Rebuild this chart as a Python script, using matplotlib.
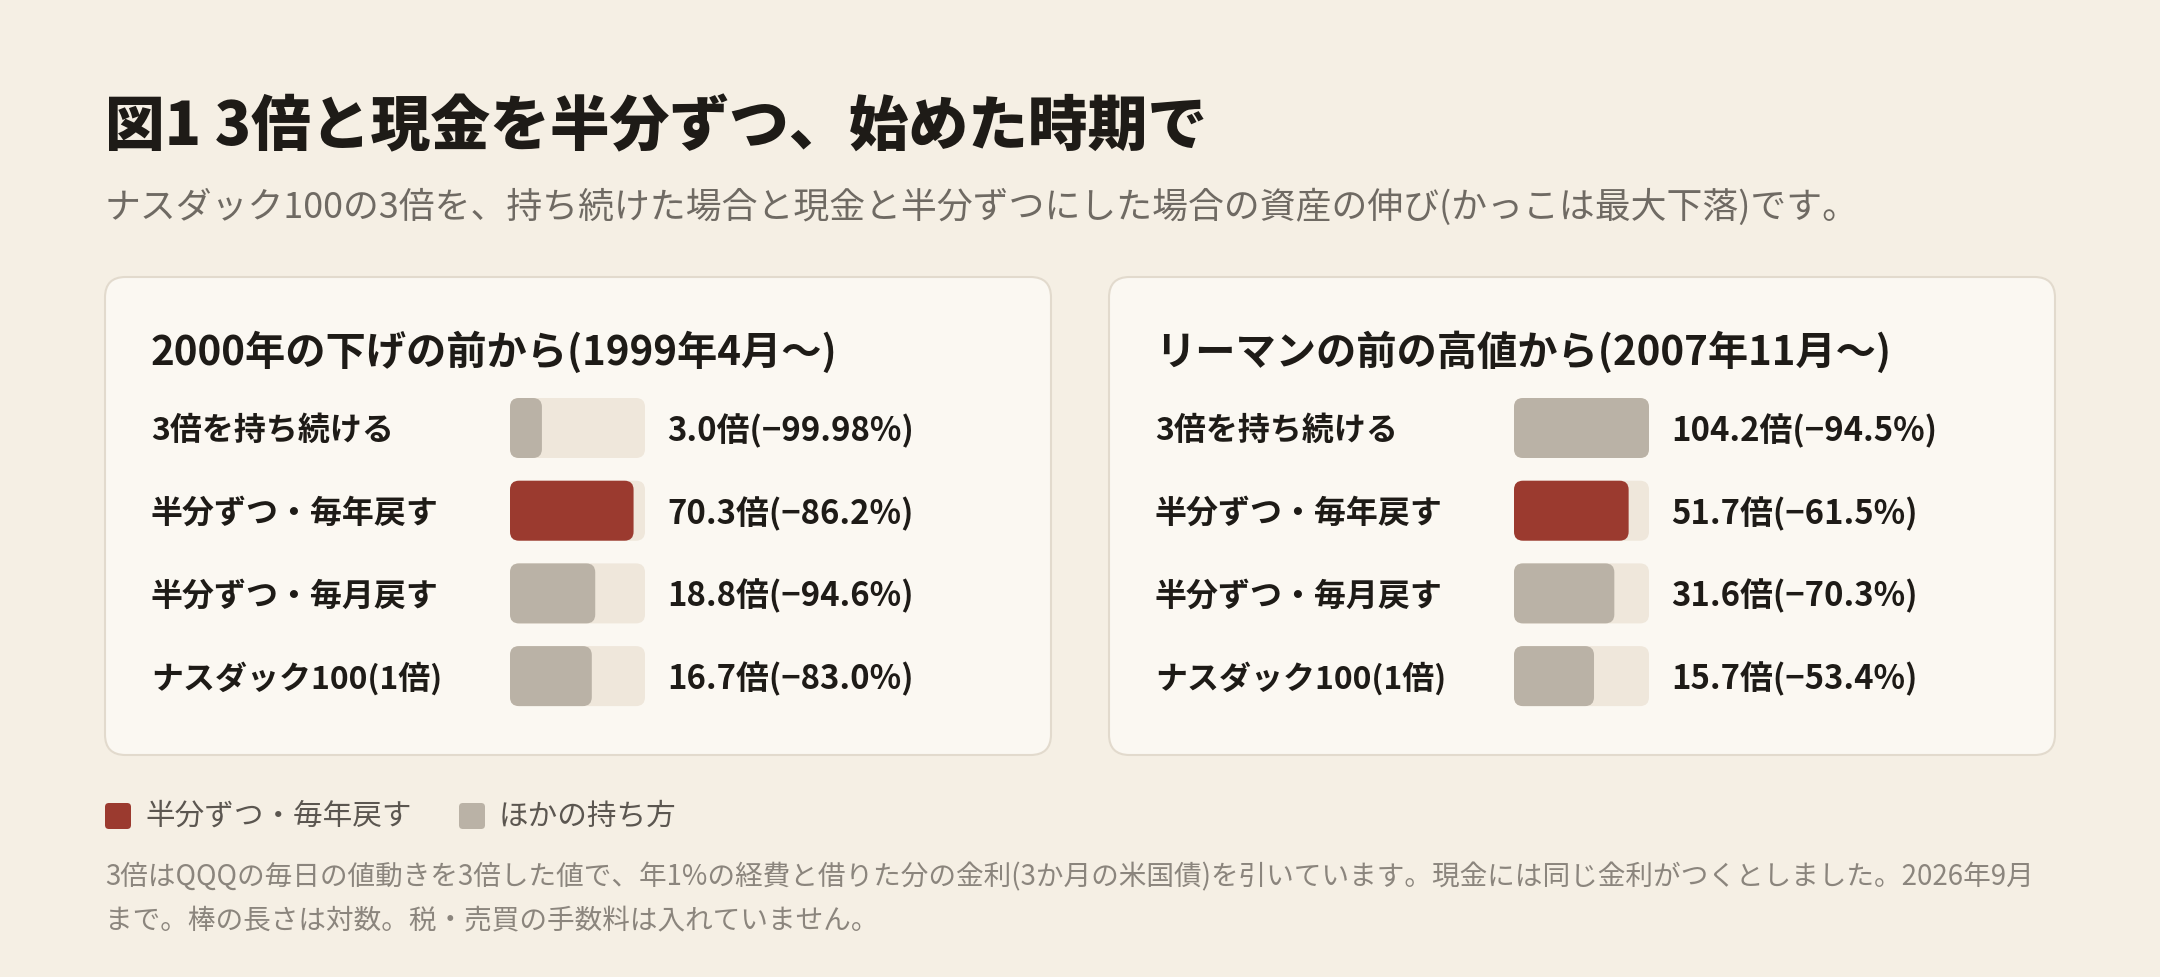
import numpy as np
import matplotlib
matplotlib.use("Agg")
import matplotlib.pyplot as plt
from matplotlib.patches import FancyBboxPatch
from matplotlib import transforms

plt.rcParams['font.family'] = ['Noto Sans CJK JP', 'DejaVu Sans']

# ---------------- data ----------------
title = "図1 3倍と現金を半分ずつ、始めた時期で"
subtitle = "ナスダック100の3倍を、持ち続けた場合と現金と半分ずつにした場合の資産の伸び(かっこは最大下落)です。"
strategies = ["3倍を持ち続ける", "半分ずつ・毎年戻す", "半分ずつ・毎月戻す", "ナスダック100(1倍)"]
panel_titles = ["2000年の下げの前から(1999年4月〜)", "リーマンの前の高値から(2007年11月〜)"]
growth_1999 = [3.0, 70.3, 18.8, 16.7]
drawdown_1999 = [-99.98, -86.2, -94.6, -83.0]
growth_2007 = [104.2, 51.7, 31.6, 15.7]
drawdown_2007 = [-94.5, -61.5, -70.3, -53.4]
dd_fmt_1999 = ["{:.2f}", "{:.1f}", "{:.1f}", "{:.1f}"]
highlight = "半分ずつ・毎年戻す"
legend_labels = ["半分ずつ・毎年戻す", "ほかの持ち方"]
footnote_lines = [
    "3倍はQQQの毎日の値動きを3倍した値で、年1%の経費と借りた分の金利(3か月の米国債)を引いています。現金には同じ金利がつくとしました。2026年9月",
    "まで。棒の長さは対数。税・売買の手数料は入れていません。",
]

# ---------------- style ----------------
BG = "#f5efe4"
CARD = "#fbf8f2"
CARD_EDGE = "#e2dacd"
RED = "#9b3a2f"
GRAY = "#bab2a6"
TRACK = "#efe7db"
DARK = "#1e1b17"
SUB = "#6f6a63"
LEG = "#5b5650"
FOOT = "#8b857d"

W, H = 2160, 977
fig = plt.figure(figsize=(W / 100, H / 100), dpi=100, facecolor=BG)


def fx(px):
    return px / W


def fy(py):
    return 1 - py / H


fig.text(fx(105), fy(127), title, fontsize=43, fontweight='heavy', color=DARK,
         ha='left', va='center')
fig.text(fx(105), fy(207), subtitle, fontsize=25.8, color=SUB, ha='left', va='center')

panels = [
    (panel_titles[0], growth_1999, drawdown_1999, dd_fmt_1999),
    (panel_titles[1], growth_2007, drawdown_2007, ["{:.1f}"] * 4),
]

xmax = np.log10(max(max(growth_1999), max(growth_2007)))
row_step = 82.7
bar_h_px = 60
track_w = 135
rad_px = 9
txt_shift = 3 / row_step

for p, (ptitle, growth, dd, fmts) in enumerate(panels):
    off = p * 1004
    # card
    card = FancyBboxPatch((fx(105 + off), fy(755)), fx(946), (755 - 277) / H,
                          boxstyle="round,pad=0,rounding_size=0.0095",
                          mutation_aspect=W / H,
                          transform=fig.transFigure, facecolor=CARD,
                          edgecolor=CARD_EDGE, linewidth=1.5, zorder=-5)
    fig.patches.append(card)
    fig.text(fx(151 + off), fy(353), ptitle, fontsize=29, fontweight='bold',
             color=DARK, ha='left', va='center')

    # bar axes
    top = 428 - row_step / 2
    ax_h = row_step * 4
    ax = fig.add_axes([fx(510 + off), fy(top + ax_h), fx(track_w), ax_h / H])
    ax.set_zorder(2)
    ax.set_xlim(0, xmax)
    ax.set_ylim(3.5, -0.5)
    ax.axis('off')
    ax.patch.set_alpha(0)
    xu_per_px = xmax / track_w
    yu_per_px = 1 / row_step
    asp = yu_per_px / xu_per_px
    r = rad_px * xu_per_px
    bh = bar_h_px / row_step
    trans_lbl = transforms.blended_transform_factory(fig.transFigure, ax.transData)
    for i, (name, g, d, f) in enumerate(zip(strategies, growth, dd, fmts)):
        tr = FancyBboxPatch((0, i - bh / 2), xmax, bh,
                            boxstyle=f"round,pad=0,rounding_size={r}",
                            mutation_aspect=asp, facecolor=TRACK,
                            edgecolor='none', zorder=1)
        ax.add_patch(tr)
        col = RED if name == highlight else GRAY
        b = FancyBboxPatch((0, i - bh / 2), np.log10(g), bh,
                           boxstyle=f"round,pad=0,rounding_size={r}",
                           mutation_aspect=asp, facecolor=col,
                           edgecolor='none', zorder=2)
        ax.add_patch(b)
        ax.text(fx(151 + off), i + txt_shift, name, transform=trans_lbl, fontsize=23,
                fontweight='bold', color=DARK, ha='left', va='center')
        lbl = f"{g:.1f}倍(−" + f.format(abs(d)) + "%)"
        ax.text(fx(667 + off), i + txt_shift, lbl, transform=trans_lbl, fontsize=23.7,
                fontweight='bold', color=DARK, ha='left', va='center')

# legend
for (lx, tx), lab, col in zip([(105, 145), (459, 499)], legend_labels, [RED, GRAY]):
    sq = FancyBboxPatch((fx(lx), fy(816 + 13)), fx(26), 26 / H,
                        boxstyle="round,pad=0,rounding_size=0.0018",
                        mutation_aspect=W / H, transform=fig.transFigure,
                        facecolor=col, edgecolor='none')
    fig.patches.append(sq)
    fig.text(fx(tx), fy(816), lab, fontsize=21.3, color=LEG, ha='left', va='center')

for k, line in enumerate(footnote_lines):
    fig.text(fx(105), fy(877 + 43 * k), line, fontsize=19.9, color=FOOT,
             ha='left', va='center')

fig.savefig("out.png", dpi=100, facecolor=BG)
